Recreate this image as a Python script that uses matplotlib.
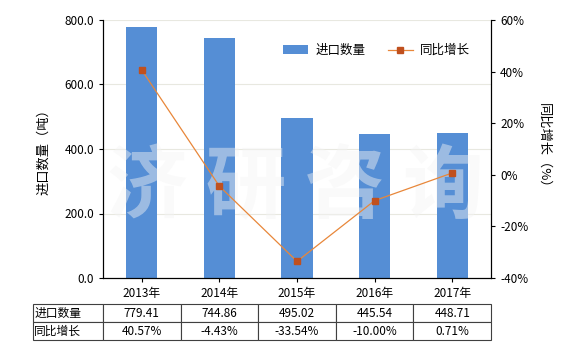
import numpy as np
import matplotlib
matplotlib.use("Agg")
from matplotlib import pyplot as plt

plt.rcParams['font.family'] = ['Noto Sans CJK SC', 'DejaVu Sans']

years = ['2013年', '2014年', '2015年', '2016年', '2017年']
qty = [779.41, 744.86, 495.02, 445.54, 448.71]
growth = [40.57, -4.43, -33.54, -10.00, 0.71]
qty_labels = ['779.41', '744.86', '495.02', '445.54', '448.71']
growth_labels = ['40.57%', '-4.43%', '-33.54%', '-10.00%', '0.71%']

bar_color = '#558ED5'
line_color = '#E8873A'
marker_color = '#C0501E'

fig = plt.figure(figsize=(5.8, 3.5), dpi=100)
ax = fig.add_axes([0.1776, 0.2057, 0.6690, 0.7372])
x = np.arange(len(years))

ax.bar(x, qty, width=0.4, color=bar_color, label='进口数量', zorder=2)
ax.set_xlim(-0.5, len(years) - 0.5)
ax.set_ylim(0, 800)
ax.set_yticks([0, 200, 400, 600, 800])
ax.set_yticklabels(['0.0', '200.0', '400.0', '600.0', '800.0'], fontsize=8.5)
ax.set_xticks(x)
ax.set_xticklabels(years, fontsize=8.5)
ax.grid(axis='y', color='#E8E8E0', linewidth=0.8, zorder=0)
ax.set_axisbelow(True)
ax.set_ylabel('进口数量（吨）', fontsize=9.5, labelpad=10)
ax.spines['top'].set_visible(False)
ax.tick_params(axis='both', length=3, width=0.8)

# watermark, between the bars and the line
ax.text(0.51, 0.46, '济 研 咨 询', fontsize=58, color='#F4F4F4', alpha=0.45,
        ha='center', va='center', fontweight='bold', zorder=3,
        transform=fig.transFigure, clip_on=False)

ax2 = ax.twinx()
ax2.plot(x, growth, color=line_color, linewidth=0.9, marker='s', markersize=5,
         markerfacecolor=marker_color, markeredgecolor=marker_color, label='同比增长', zorder=3)
ax2.set_ylim(-40, 60)
ax2.set_yticks([-40, -20, 0, 20, 40, 60])
ax2.set_yticklabels(['-40%', '-20%', '0%', '20%', '40%', '60%'], fontsize=8.5)
ax2.set_ylabel('同比增长（%）', fontsize=9.5, rotation=-90, labelpad=16)
ax2.spines['top'].set_visible(False)
ax2.tick_params(axis='y', length=3, width=0.8)

h1, l1 = ax.get_legend_handles_labels()
h2, l2 = ax2.get_legend_handles_labels()
ax2.legend(h1 + h2, l1 + l2, loc='upper right', bbox_to_anchor=(0.975, 0.95),
           ncol=2, frameon=False, fontsize=9, handlelength=2.0, columnspacing=1.8,
           handletextpad=0.6)

cells = [['进口数量'] + qty_labels, ['同比增长'] + growth_labels]
tw = 70 + 77.6 * 5
tbl = ax.table(cellText=cells, cellLoc='center',
               colWidths=[70 / tw] + [77.6 / tw] * 5,
               bbox=[-70 / 388, -62 / 258, tw / 388, 36 / 258])
tbl.auto_set_font_size(False)
tbl.set_fontsize(8.5)
for (r, c), cell in tbl.get_celld().items():
    cell.set_edgecolor('#404040')
    cell.set_linewidth(0.8)
    if c == 0:
        cell.get_text().set_horizontalalignment('left')
        cell.PAD = 0.02

fig.savefig('out.png', dpi=100)
